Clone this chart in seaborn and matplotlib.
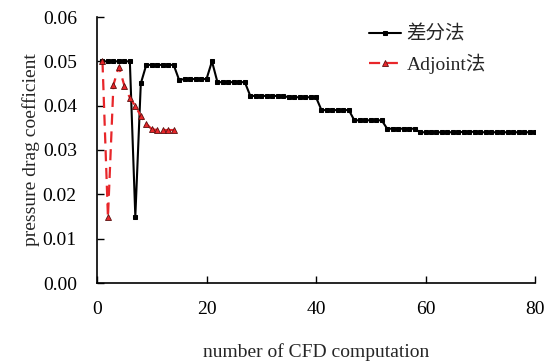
import numpy as np
import pandas as pd
import matplotlib
matplotlib.use("Agg")
import matplotlib.pyplot as plt
import seaborn as sns

# Data
fd_iter = list(range(1, 81))
fd_vals = ([0.0500] * 6 + [0.0150, 0.0450] + [0.0492] * 6 + [0.0458] + [0.0460] * 5
           + [0.0500] + [0.0453] * 6 + [0.0422] * 7 + [0.0419] * 6 + [0.0390] * 6
           + [0.0367] * 6 + [0.0348] * 6 + [0.0340] * 8 + [0.0341] * 3 + [0.0340] * 11)
adj_iter = list(range(1, 15))
adj_vals = [0.0500, 0.0148, 0.0447, 0.0488, 0.0445, 0.0418, 0.0399, 0.0377,
            0.0359, 0.0347, 0.0345, 0.0345, 0.0345, 0.0345]
labels = ["差分法", "Adjoint法"]
x_label = "number of CFD computation"
y_label = "pressure drag coefficient"
x_ticks = [0, 20, 40, 60, 80]
y_ticks = [0.00, 0.01, 0.02, 0.03, 0.04, 0.05, 0.06]

sns.set_style("white")
plt.rcParams['font.family'] = ['Liberation Serif', 'Noto Sans CJK SC', 'DejaVu Sans']
plt.rcParams['font.size'] = 14

fig = plt.figure(figsize=(5.52, 3.62), dpi=100)
ax = fig.add_axes([97 / 552, 1 - 283 / 362, (535 - 97) / 552, (283 - 17) / 362])

df1 = pd.DataFrame({"x": fd_iter, "y": fd_vals})
df2 = pd.DataFrame({"x": adj_iter, "y": adj_vals})

sns.lineplot(data=df1, x="x", y="y", ax=ax, color="black", lw=1.5,
             marker="s", markersize=3.3, markeredgecolor="black", label=labels[0])
sns.lineplot(data=df2, x="x", y="y", ax=ax, color="#e8262a", lw=1.6,
             linestyle=(0, (5, 3)), marker="^", markersize=4,
             markerfacecolor="#e8262a", markeredgecolor="#5a1010",
             markeredgewidth=0.6, label=labels[1])

ax.set_xlim(0, 80)
ax.set_ylim(0, 0.06)
ax.set_xticks(x_ticks)
ax.set_yticks(y_ticks)
ax.set_yticklabels([f"{v:.2f}" for v in y_ticks])
ax.tick_params(direction="in", length=5, width=1, colors="black", labelsize=14,
               bottom=True, left=True)
ax.tick_params(axis="x", pad=13)
ax.tick_params(axis="y", pad=14.5)
for s in ["top", "right"]:
    ax.spines[s].set_visible(False)
for s in ["left", "bottom"]:
    ax.spines[s].set_color("black")
    ax.spines[s].set_linewidth(1.2)
ax.set_xlabel(x_label, fontsize=14, labelpad=18)
ax.set_ylabel(y_label, fontsize=14, labelpad=2)

leg = ax.legend(loc="upper left", bbox_to_anchor=(352 / 552, 1 - 8 / 362),
                bbox_transform=fig.transFigure, frameon=False,
                handlelength=1.6, handletextpad=0.3, labelspacing=0.5,
                fontsize=14)

fig.savefig("out.png", dpi=100)
